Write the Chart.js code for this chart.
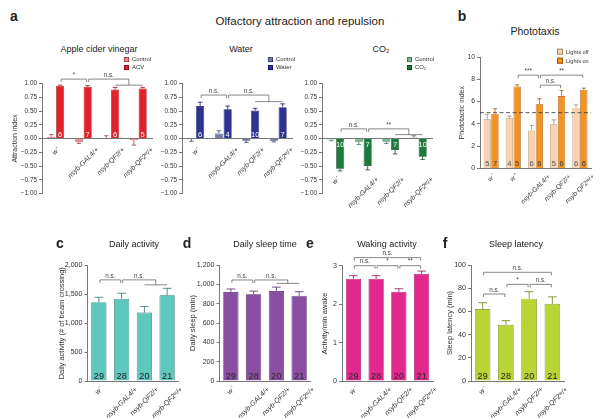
<!DOCTYPE html>
<html>
<head>
<meta charset="utf-8">
<script src="https://cdn.jsdelivr.net/npm/chart.js@4.4.1/dist/chart.umd.min.js"></script>
<style>
  html, body { margin: 0; padding: 0; background: #fff; }
  #fig { position: relative; width: 600px; height: 418px; overflow: hidden;
         font-family: 'Liberation Sans', Arial, Helvetica, sans-serif; color: #222; }
  #fig canvas { position: absolute; }
  .t { position: absolute; white-space: nowrap; transform: translate(-50%, -50%); line-height: 1; }
  .leg { position: absolute; white-space: nowrap; line-height: 1; transform: translateY(-50%); color: #333; }
  .leg i { display: inline-block; box-sizing: border-box; margin-right: 3px; vertical-align: -1px; border: 0.6px solid rgba(0,0,0,0.55); }
</style>
</head>
<body>
<div id="fig"></div>
<script>
// ---- data ----
const GENOTYPES = ['w⁻', 'nsyb-GAL4/+', 'nsyb-QF2/+', 'nsyb-QF2ʷ/+'];
const PHOTO_GENOTYPES = ['w⁻', 'w⁺', 'nsyb-GAL4/+', 'nsyb-QF2/+', 'nsyb-QF2ʷ/+'];

const ACV_SERIES = ['Control', 'ACV'];
const acvControl = [0.03, -0.06, 0.005, -0.03];
const acvControlErr = [0.04, 0.03, 0.045, 0.09];
const acvOdor = [0.96, 0.94, 0.89, 0.91];
const acvOdorErr = [0.01, 0.02, 0.04, 0.02];
const acvN = [6, 7, 6, 5];

const WATER_SERIES = ['Control', 'Water'];
const waterControl = [-0.01, 0.09, -0.04, -0.04];
const waterControlErr = [0.04, 0.05, 0.03, 0.02];
const waterOdor = [0.59, 0.53, 0.51, 0.57];
const waterOdorErr = [0.07, 0.06, 0.04, 0.06];
const waterN = [6, 4, 10, 7];

const CO2_SERIES = ['Control', 'CO₂'];
const co2Control = [-0.02, -0.06, -0.06, 0.02];
const co2ControlErr = [0.02, 0.05, 0.03, 0.03];
const co2Odor = [-0.55, -0.50, -0.21, -0.33];
const co2OdorErr = [0.04, 0.07, 0.07, 0.05];
const co2N = [10, 7, 7, 10];

const PHOTO_SERIES = ['Lights off', 'Lights on'];
const lightsOff = [4.4, 4.5, 3.4, 3.95, 5.45];
const lightsOffErr = [0.45, 0.2, 0.45, 0.4, 0.25];
const lightsOn = [4.9, 7.35, 5.75, 6.5, 7.05];
const lightsOnErr = [0.45, 0.15, 0.5, 0.5, 0.15];
const lightsOffN = [5, 4, 6, 5, 6];
const lightsOnN = [7, 5, 6, 6, 6];
const PHOTO_CHANCE = 5;

const sleepN = [29, 28, 20, 21];
const dailyActivity = [1365, 1425, 1185, 1485];
const dailyActivityErr = [85, 95, 105, 120];
const dailySleep = [920, 897, 931, 882];
const dailySleepErr = [32, 33, 40, 42];
const wakingActivity = [2.66, 2.66, 2.32, 2.79];
const wakingActivityErr = [0.08, 0.08, 0.08, 0.07];
const sleepLatency = [62, 48.5, 71, 66.5];
const sleepLatencyErr = [5.5, 3.5, 6, 6];

// significance brackets: category indices + height in data units
const acvSig = [
  { from: 0, to: 1, y: 1.08, text: '*' },
  { from: 1, to: [2, 3], y: 1.08, y2: 0.97, text: 'n.s.' }
];
const waterSig = [
  { from: 0, to: 1, y: 0.79, text: 'n.s.' },
  { from: 1, to: [2, 3], y: 0.79, y2: 0.67, text: 'n.s.' }
];
const co2Sig = [
  { from: 0, to: 1, y: 0.175, text: 'n.s.' },
  { from: 1, to: [2, 3], y: 0.175, y2: 0.07, text: '**' }
];
const photoSig = [
  { from: 1, to: 2, y: 8.37, text: '***' },
  { from: 2, to: 4, y: 8.37, text: '**' },
  { from: 2, to: 3, y: 7.47, text: 'n.s.' }
];
const activitySig = [
  { from: 0, to: 1, y: 1751, text: 'n.s.' },
  { from: 1, to: [2, 3], y: 1751, y2: 1665, text: 'n.s.' }
];
const sleepSig = [
  { from: 0, to: 1, y: 1045, text: 'n.s.' },
  { from: 1, to: [2, 3], y: 1045, y2: 1010, text: 'n.s.' }
];
const wakingSig = [
  { from: 0, to: 3, y: 3.21, text: 'n.s.' },
  { from: 0, to: 1, y: 3.0, text: 'n.s.' },
  { from: 1, to: 2, y: 3.0, text: '*' },
  { from: 2, to: 3, y: 3.0, text: '**' }
];
const latencySig = [
  { from: 0, to: 3, y: 93.7, text: 'n.s.' },
  { from: 0, to: 1, y: 75, text: 'n.s.' },
  { from: 1, to: 2, y: 83.3, text: '*' },
  { from: 2, to: 3, y: 83.3, text: 'n.s.' }
];

// ---- style ----
const FONT = "'Liberation Sans', Arial, Helvetica, sans-serif";
const AXIS = '#555';
Chart.defaults.font.family = FONT;
Chart.defaults.color = '#333';

const fig = document.getElementById('fig');

const fmtIndex = v => (v < 0 ? '−' : '') + Math.abs(v).toFixed(2);
const fmtComma = v => v.toLocaleString('en-US');
const fmtPlain = v => String(v);

function decor(o) {
  return {
    id: 'decor',
    afterDatasetsDraw(chart) {
      const { ctx, chartArea } = chart;
      const xs = chart.scales.x, ys = chart.scales.y;
      ctx.save();

      // dashed reference line
      if (o.refLine != null) {
        const yy = ys.getPixelForValue(o.refLine);
        ctx.setLineDash([4, 2.5]);
        ctx.strokeStyle = '#333';
        ctx.lineWidth = 0.8;
        ctx.beginPath();
        ctx.moveTo(chartArea.left, yy);
        ctx.lineTo(chartArea.right, yy);
        ctx.stroke();
        ctx.setLineDash([]);
      }

      // error bars + n labels
      const base = ys.getBasePixel();
      o.series.forEach((s, d) => {
        const meta = chart.getDatasetMeta(d);
        meta.data.forEach((bar, i) => {
          const v = s.data[i];
          const dir = v < 0 ? -1 : 1;
          const y0 = ys.getPixelForValue(v);
          const y1 = ys.getPixelForValue(v + dir * s.err[i]);
          const cw = bar.width * 0.28;
          ctx.strokeStyle = s.border;
          ctx.lineWidth = 0.8;
          ctx.beginPath();
          ctx.moveTo(bar.x, y0);
          ctx.lineTo(bar.x, y1);
          ctx.moveTo(bar.x - cw, y1);
          ctx.lineTo(bar.x + cw, y1);
          ctx.stroke();

          if (s.n) {
            ctx.fillStyle = s.nColor;
            ctx.font = o.nFont + 'px ' + FONT;
            ctx.textAlign = 'center';
            if (v < 0) {
              ctx.textBaseline = 'top';
              ctx.fillText(String(s.n[i]), bar.x, base + 2.5);
            } else {
              ctx.textBaseline = 'alphabetic';
              ctx.fillText(String(s.n[i]), bar.x, base - o.nPad);
            }
          }
        });
      });

      // rotated genotype labels, centred under each category
      const top0 = ys.getPixelForValue(o.labelAt) + o.labelGap;
      const c = Math.SQRT1_2;
      ctx.font = 'italic ' + o.labelFont + 'px ' + FONT;
      ctx.fillStyle = '#333';
      ctx.textAlign = 'right';
      ctx.textBaseline = 'middle';
      o.labels.forEach((lab, i) => {
        const x = xs.getPixelForValue(i);
        const L = ctx.measureText(lab).width;
        ctx.save();
        ctx.translate(x + c * L / 2, top0 + c * o.labelFont / 2);
        ctx.rotate(-Math.PI / 4);
        ctx.fillText(lab, 0, 0);
        ctx.restore();
      });

      // significance brackets
      const sm = chart.getDatasetMeta(o.sigDs);
      const bx = i => sm.data[i].x;
      const TK = 3;
      ctx.strokeStyle = '#555';
      ctx.lineWidth = 0.7;
      ctx.fillStyle = '#444';
      ctx.font = '6.3px ' + FONT;
      ctx.textAlign = 'center';
      ctx.textBaseline = 'bottom';
      o.sig.forEach(s => {
        const y = ys.getPixelForValue(s.y);
        const x1 = bx(s.from) + 1;
        let x2;
        ctx.beginPath();
        if (Array.isArray(s.to)) {
          const a = bx(s.to[0]), b = bx(s.to[1]);
          const y2 = ys.getPixelForValue(s.y2);
          x2 = (a + b) / 2;
          ctx.moveTo(x1, y + TK);
          ctx.lineTo(x1, y);
          ctx.lineTo(x2, y);
          ctx.lineTo(x2, y2);
          ctx.moveTo(a, y2);
          ctx.lineTo(b, y2);
        } else {
          x2 = bx(s.to) - 1;
          ctx.moveTo(x1, y + TK);
          ctx.lineTo(x1, y);
          ctx.lineTo(x2, y);
          ctx.lineTo(x2, y + TK);
        }
        ctx.stroke();
        ctx.fillText(s.text, (x1 + x2) / 2, y - 0.8);
      });

      ctx.restore();
    }
  };
}

function barPanel(o) {
  const cv = document.createElement('canvas');
  cv.width = o.w;
  cv.height = o.h;
  cv.style.left = o.left + 'px';
  cv.style.top = o.top + 'px';
  fig.appendChild(cv);

  const scaleLeft = o.yTitle ? o.yTitle.x - 0.6 * o.yTitle.size : o.left;
  const yWidth = o.plot.l - scaleLeft;

  return new Chart(cv, {
    type: 'bar',
    data: {
      labels: o.labels,
      datasets: o.series.map(s => ({
        label: s.name,
        data: s.data,
        backgroundColor: s.color,
        borderColor: s.border,
        borderWidth: 0.7,
        categoryPercentage: o.catPct,
        barPercentage: o.barPct
      }))
    },
    options: {
      responsive: false,
      animation: false,
      devicePixelRatio: 1,
      layout: {
        padding: {
          left: scaleLeft - o.left,
          top: o.plot.t - o.top,
          right: o.left + o.w - o.plot.r,
          bottom: o.top + o.h - o.plot.b
        }
      },
      plugins: { legend: { display: false }, tooltip: { enabled: false } },
      scales: {
        x: {
          position: o.xAtZero ? { y: 0 } : 'bottom',
          grid: { display: false },
          border: { display: true, color: AXIS, width: 0.8 },
          ticks: { display: false },
          afterFit: s => { s.height = 0; }
        },
        y: {
          min: o.y.min,
          max: o.y.max,
          ticks: { stepSize: o.y.step, callback: o.y.fmt, font: { size: o.tickFont }, color: '#333', padding: 2 },
          grid: { drawOnChartArea: false, drawTicks: true, tickLength: 3, color: AXIS, lineWidth: 0.8 },
          border: { display: true, color: AXIS, width: 0.8 },
          title: {
            display: !!o.yTitle,
            text: o.yTitle ? o.yTitle.text : '',
            font: { size: o.yTitle ? o.yTitle.size : 7 },
            color: '#333',
            padding: 0
          },
          afterFit: s => { s.width = yWidth; }
        }
      }
    },
    plugins: [decor(o)]
  });
}

// ---- text helpers ----
function txt(s, x, y, size, bold) {
  const d = document.createElement('div');
  d.className = 't';
  d.textContent = s;
  d.style.left = x + 'px';
  d.style.top = y + 'px';
  d.style.fontSize = size + 'px';
  if (bold) d.style.fontWeight = 'bold';
  fig.appendChild(d);
}
function legend(names, colors, borders, x, y0, dy, box, size) {
  names.forEach((n, k) => {
    const d = document.createElement('div');
    d.className = 'leg';
    d.style.left = x + 'px';
    d.style.top = (y0 + k * dy) + 'px';
    d.style.fontSize = size + 'px';
    const sq = document.createElement('i');
    sq.style.width = box + 'px';
    sq.style.height = box + 'px';
    sq.style.background = colors[k];
    sq.style.borderColor = borders[k];
    d.appendChild(sq);
    d.appendChild(document.createTextNode(n));
    fig.appendChild(d);
  });
}

// ---- panel a ----
const A_Y = { min: -1, max: 1, step: 0.25, fmt: fmtIndex };
const ACV_C = ['#EE8C95', '#E3212B'], ACV_B = ['#a0434c', '#8a1016'];
const WAT_C = ['#747AAA', '#2E3393'], WAT_B = ['#3d4270', '#15185a'];
const CO2_C = ['#78BD91', '#1C7A3D'], CO2_B = ['#3f7a55', '#0c4522'];
const A_COMMON = { labels: GENOTYPES, xAtZero: true, catPct: 0.64, barPct: 0.92, nFont: 7.5, nPad: 1.5,
                   sigDs: 1, labelFont: 6.8, tickFont: 6.4, top: 60, y: A_Y };

barPanel(Object.assign({}, A_COMMON, {
  left: 0, w: 160, h: 145, plot: { l: 42, r: 152, t: 83.5, b: 193.5 },
  yTitle: { text: 'Attraction index', x: 15.5, size: 7 },
  labelAt: 0, labelGap: 8,
  series: [
    { name: ACV_SERIES[0], data: acvControl, err: acvControlErr, color: ACV_C[0], border: ACV_B[0] },
    { name: ACV_SERIES[1], data: acvOdor, err: acvOdorErr, n: acvN, color: ACV_C[1], border: ACV_B[1], nColor: '#fff' }
  ],
  sig: acvSig
}));
barPanel(Object.assign({}, A_COMMON, {
  left: 160, w: 140, h: 145, plot: { l: 182, r: 292, t: 83.5, b: 193.5 },
  labelAt: 0, labelGap: 8,
  series: [
    { name: WATER_SERIES[0], data: waterControl, err: waterControlErr, color: WAT_C[0], border: WAT_B[0] },
    { name: WATER_SERIES[1], data: waterOdor, err: waterOdorErr, n: waterN, color: WAT_C[1], border: WAT_B[1], nColor: '#fff' }
  ],
  sig: waterSig
}));
barPanel(Object.assign({}, A_COMMON, {
  left: 300, w: 140, h: 155, plot: { l: 322, r: 432, t: 83.5, b: 193.5 },
  labelAt: -0.685, labelGap: 0,
  series: [
    { name: CO2_SERIES[0], data: co2Control, err: co2ControlErr, color: CO2_C[0], border: CO2_B[0] },
    { name: CO2_SERIES[1], data: co2Odor, err: co2OdorErr, n: co2N, color: CO2_C[1], border: CO2_B[1], nColor: '#fff' }
  ],
  sig: co2Sig
}));

// ---- panel b ----
const PH_C = ['#F8D3AF', '#F39326'], PH_B = ['#a98866', '#a3570c'];
barPanel({
  left: 450, top: 40, w: 150, h: 185, plot: { l: 480, r: 591, t: 57, b: 168.3 },
  y: { min: 0, max: 10, step: 2, fmt: fmtPlain }, yTitle: { text: 'Phototactic index', x: 462.5, size: 7 },
  labels: PHOTO_GENOTYPES, labelAt: 0, labelGap: 5, labelFont: 6.6, tickFont: 6.8,
  catPct: 0.7, barPct: 0.94, refLine: PHOTO_CHANCE,
  series: [
    { name: PHOTO_SERIES[0], data: lightsOff, err: lightsOffErr, n: lightsOffN, color: PH_C[0], border: PH_B[0], nColor: '#555' },
    { name: PHOTO_SERIES[1], data: lightsOn, err: lightsOnErr, n: lightsOnN, color: PH_C[1], border: PH_B[1], nColor: '#3a3a3a' }
  ],
  nFont: 7.5, nPad: 2, sig: photoSig, sigDs: 1
});

// ---- panels c-f ----
const LOW = { labels: GENOTYPES, labelAt: 0, labelGap: 5, labelFont: 7, tickFont: 7.1, catPct: 0.67, barPct: 1,
              nFont: 9, nPad: 2.5, sigDs: 0, top: 245, h: 173 };
barPanel(Object.assign({}, LOW, {
  left: 50, w: 135, plot: { l: 87.5, r: 178.5, t: 265.5, b: 381 },
  y: { min: 0, max: 2000, step: 500, fmt: fmtComma },
  yTitle: { text: 'Daily activity (# of beam crossing)', x: 61.5, size: 7.5 },
  series: [{ name: 'Daily activity', data: dailyActivity, err: dailyActivityErr, n: sleepN, color: '#5EC7BE', border: '#2f736d', nColor: '#222' }],
  sig: activitySig
}));
barPanel(Object.assign({}, LOW, {
  left: 185, w: 130, plot: { l: 219.5, r: 310.5, t: 265, b: 381 },
  y: { min: 0, max: 1200, step: 200, fmt: fmtComma },
  yTitle: { text: 'Daily sleep (min)', x: 192.5, size: 7.5 },
  series: [{ name: 'Daily sleep', data: dailySleep, err: dailySleepErr, n: sleepN, color: '#8A4FA3', border: '#4a2560', nColor: '#2a2a2a' }],
  sig: sleepSig
}));
barPanel(Object.assign({}, LOW, {
  left: 315, w: 125, plot: { l: 342, r: 433, t: 265.7, b: 381 },
  y: { min: 0, max: 3, step: 1, fmt: fmtPlain },
  yTitle: { text: 'Activity/min awake', x: 325, size: 7.5 },
  series: [{ name: 'Waking activity', data: wakingActivity, err: wakingActivityErr, n: sleepN, color: '#E2278D', border: '#8a1050', nColor: '#2a2a2a' }],
  sig: wakingSig
}));
barPanel(Object.assign({}, LOW, {
  left: 440, w: 160, plot: { l: 471, r: 564, t: 265, b: 381 },
  y: { min: 0, max: 100, step: 20, fmt: fmtPlain },
  yTitle: { text: 'Sleep latency (min)', x: 450, size: 7.5 },
  series: [{ name: 'Sleep latency', data: sleepLatency, err: sleepLatencyErr, n: sleepN, color: '#B8D435', border: '#6b7d14', nColor: '#222' }],
  sig: latencySig
}));

// ---- titles, letters, legends ----
txt('a', 14, 16, 14, true);
txt('b', 462, 16, 14, true);
txt('c', 60, 243, 14, true);
txt('d', 187, 243, 14, true);
txt('e', 310, 243, 14, true);
txt('f', 445, 243, 14, true);

txt('Olfactory attraction and repulsion', 300, 22, 11.5);
txt('Phototaxis', 535, 31, 10.5);
txt('Apple cider vinegar', 99, 49, 9);
txt('Water', 241, 48.5, 9);
txt('CO₂', 381, 48.5, 9);
txt('Daily activity', 134, 244, 9);
txt('Daily sleep time', 265, 244, 9);
txt('Waking activity', 387, 244, 9);
txt('Sleep latency', 516, 244, 9);

legend(ACV_SERIES, ACV_C, ACV_B, 124, 59.5, 8.4, 5, 5.9);
legend(WATER_SERIES, WAT_C, WAT_B, 268, 59.5, 8.2, 5, 5.9);
legend(CO2_SERIES, CO2_C, CO2_B, 407, 59.5, 8.2, 5, 5.9);
legend(PHOTO_SERIES, PH_C, PH_B, 557, 51.7, 9, 6, 5.6);
</script>
</body>
</html>
